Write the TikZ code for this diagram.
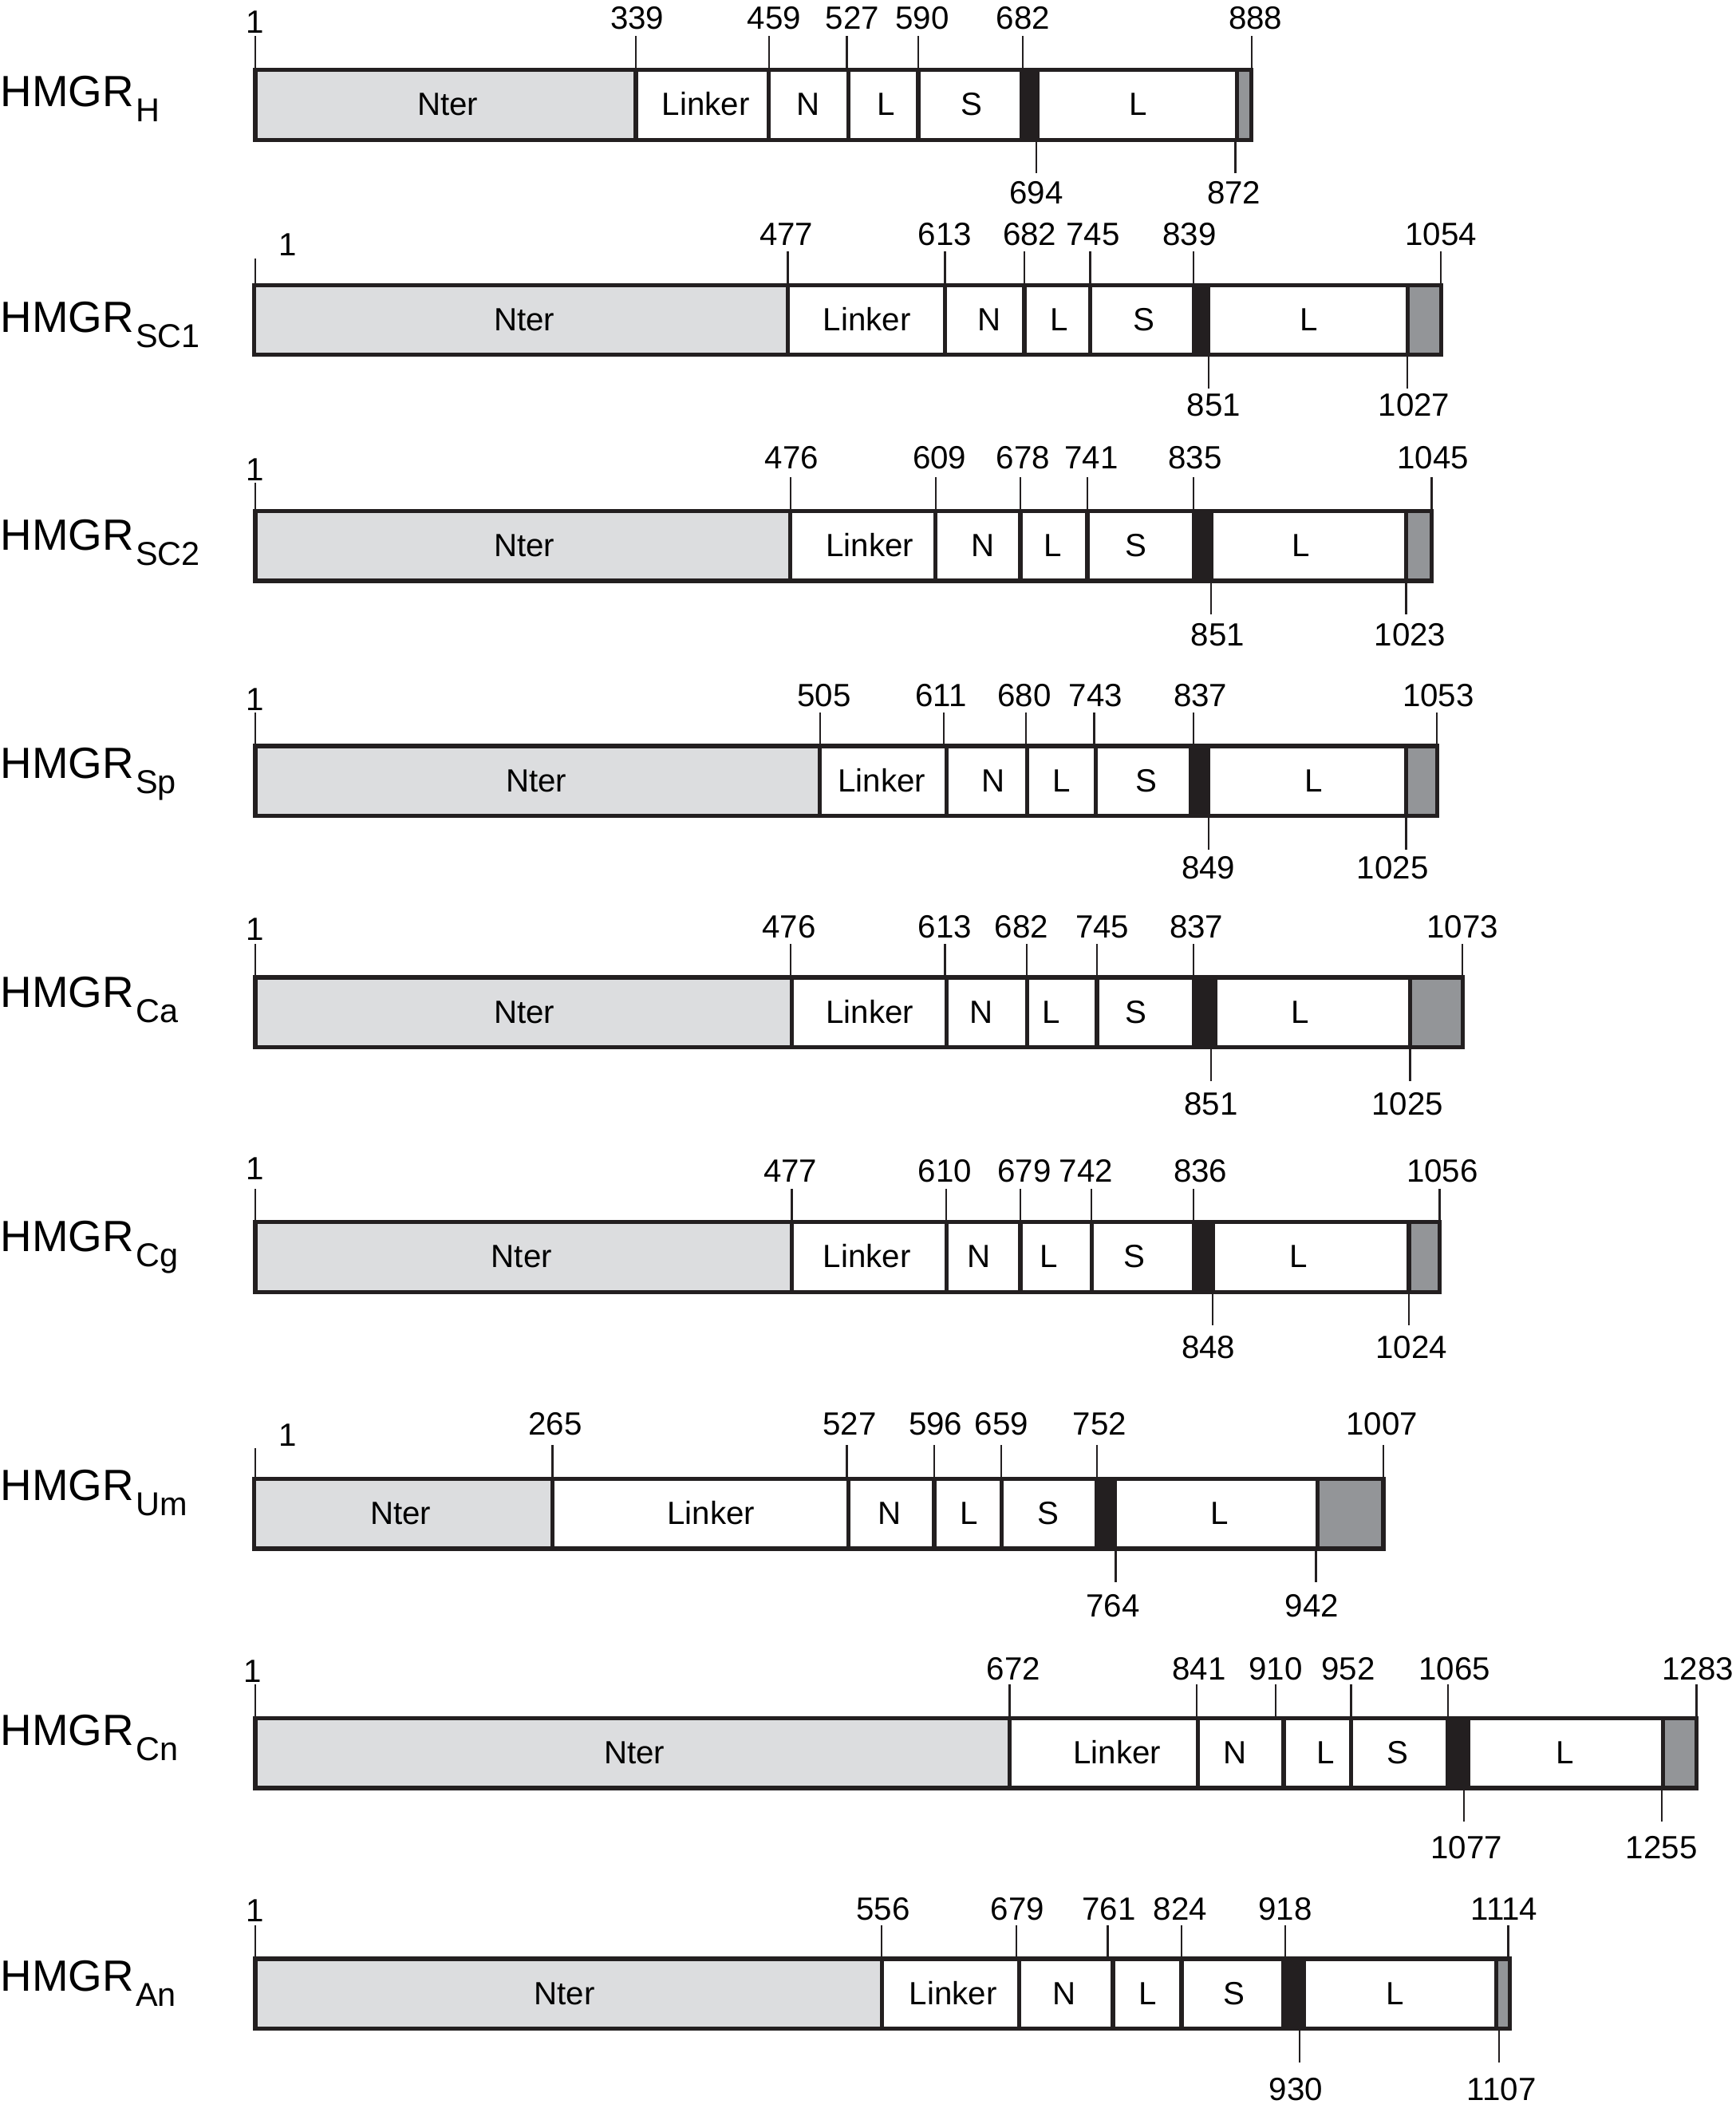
\documentclass[tikz,border=0pt]{standalone}
\usepackage{fontspec}
\setmainfont{Liberation Sans}
\definecolor{nter}{RGB}{220,221,223}
\definecolor{cter}{RGB}{147,149,152}
\definecolor{tmblk}{RGB}{35,31,32}
\begin{document}
\begin{tikzpicture}[x=0.02cm,y=-0.02cm,line join=miter,
	seg/.style={draw=tmblk,line width=1.8pt},
	tick/.style={line width=0.75pt,tmblk},
	num/.style={font=\fontsize{13.6}{15}\selectfont,inner sep=0pt,anchor=base},
	prot/.style={font=\fontsize{18.5}{20}\selectfont,inner sep=0pt,anchor=base west}]
	\useasboundingbox (0,0) rectangle (1291,1568);
	% #1 top of bar, #2 name baseline, #3 species, #4 domains, #5 marks above, #6 marks below
	\def\protrow#1#2#3#4#5#6{%
		\begin{scope}[shift={(0,#1)}]
		\node[prot] (#3) at (0,#2) {HMGR\kern0.8pt\raisebox{-6.5pt}{\fontsize{14}{15}\selectfont #3}};
		\foreach \xl/\xr/\col/\lx/\txt in {#4}{
			\draw[seg,fill=\col] (\xl,0) rectangle (\xr,52);
			\node[num] (#3-s\xl) at (\lx,34) {\txt};}
		\foreach \xm/\lx/\ly/\txt in {#5}{
			\node[num] (#3-\txt) at (\lx,\ly+8.5) {\txt};
			\draw[tick] (\xm,0) -- (\xm,{max(\ly+10,-25)});}
		\foreach \xm/\lx/\ly/\txt in {#6}{
			\node[num] (#3-\txt) at (\lx,\ly+8.5) {\txt};
			\draw[tick] (\xm,52) -- (\xm,77);}
		\end{scope}}
	\protrow{52}{27}{H}
	{190/473/nter/333/Nter, 473/572/white/525/Linker, 572/631/white/601/N, 631/683/white/659/L, 683/760/white/723/S, 760/772/tmblk/0/{}, 772/920/white/847/L, 920/931/cter/0/{}}
	{190/190/-36/1, 473/474/-39/339, 572/576/-39/459, 630/634/-39/527, 683/686/-39/590, 761/761/-39/682, 931/934/-39/888}
	{771/771/91/694, 919/918/91/872}
	\protrow{212}{35}{SC1}
	{189/586/nter/390/Nter, 586/703/white/645/Linker, 703/762/white/736/N, 762/811/white/788/L, 811/888/white/851/S, 888/899/tmblk/0/{}, 899/1047/white/974/L, 1047/1072/cter/0/{}}
	{190/214/-30/1, 586/585/-38/477, 703/703/-38/613, 762/766/-38/682, 811/813/-38/745, 888/885/-38/839, 1072/1072/-38/1054}
	{899/903/89/851, 1047/1052/89/1027}
	\protrow{380}{29}{SC2}
	{190/588/nter/390/Nter, 588/696/white/647/Linker, 696/759/white/731/N, 759/809/white/783/L, 809/888/white/845/S, 888/901/tmblk/0/{}, 901/1046/white/968/L, 1046/1065/cter/0/{}}
	{190/190/-31/1, 588/589/-40/476, 696/699/-40/609, 759/761/-40/678, 809/812/-40/741, 888/889/-40/835, 1065/1066/-40/1045}
	{901/906/92/851, 1046/1049/92/1023}
	\protrow{555}{24}{Sp}
	{190/610/nter/399/Nter, 610/704/white/656/Linker, 704/764/white/739/N, 764/815/white/790/L, 815/886/white/853/S, 886/899/tmblk/0/{}, 899/1046/white/977/L, 1046/1069/cter/0/{}}
	{190/190/-35/1, 610/613/-38/505, 702/700/-38/611, 763/762/-38/680, 814/815/-38/743, 888/893/-38/837, 1069/1070/-38/1053}
	{899/899/90/849, 1046/1036/90/1025}
	\protrow{727}{22}{Ca}
	{190/589/nter/390/Nter, 589/704/white/647/Linker, 704/764/white/730/N, 764/816/white/782/L, 816/888/white/845/S, 888/904/tmblk/0/{}, 904/1049/white/967/L, 1049/1088/cter/0/{}}
	{190/190/-36/1, 588/587/-38/476, 703/703/-38/613, 764/760/-38/682, 816/820/-38/745, 888/890/-38/837, 1088/1088/-38/1073}
	{901/901/94/851, 1049/1047/94/1025}
	\protrow{909}{22}{Cg}
	{190/589/nter/388/Nter, 589/704/white/645/Linker, 704/759/white/728/N, 759/812/white/780/L, 812/888/white/844/S, 888/902/tmblk/0/{}, 902/1048/white/966/L, 1048/1071/cter/0/{}}
	{190/190/-40/1, 589/588/-38/477, 704/703/-38/610, 759/762/-38/679, 812/808/-38/742, 888/893/-38/836, 1071/1073/-38/1056}
	{902/899/93/848, 1048/1050/93/1024}
	\protrow{1100}{16}{Um}
	{189/411/nter/298/Nter, 411/631/white/529/Linker, 631/695/white/662/N, 695/745/white/721/L, 745/816/white/780/S, 816/829/tmblk/0/{}, 829/980/white/907/L, 980/1029/cter/0/{}}
	{190/214/-33/1, 411/413/-41/265, 630/632/-41/527, 695/696/-41/596, 745/745/-41/659, 816/818/-41/752, 1029/1028/-41/1007}
	{830/828/94/764, 979/976/94/942}
	\protrow{1278}{20}{Cn}
	{190/751/nter/472/Nter, 751/891/white/831/Linker, 891/955/white/919/N, 955/1005/white/986/L, 1005/1077/white/1040/S, 1077/1092/tmblk/0/{}, 1092/1237/white/1164/L, 1237/1262/cter/0/{}}
	{190/188/-35/1, 751/754/-37/672, 890/892/-37/841, 949/949/-37/910, 1005/1003/-37/952, 1077/1082/-37/1065, 1262/1263/-37/1283}
	{1089/1091/96/1077, 1236/1236/96/1255}
	\protrow{1457}{24}{An}
	{190/656/nter/420/Nter, 656/758/white/709/Linker, 758/828/white/792/N, 828/879/white/854/L, 879/955/white/918/S, 955/970/tmblk/0/{}, 970/1113/white/1038/L, 1113/1123/cter/0/{}}
	{190/190/-36/1, 656/657/-37/556, 756/757/-37/679, 824/825/-37/761, 879/878/-37/824, 956/956/-37/918, 1122/1119/-37/1114}
	{967/964/97/930, 1115/1117/97/1107}
\end{tikzpicture}
\end{document}
